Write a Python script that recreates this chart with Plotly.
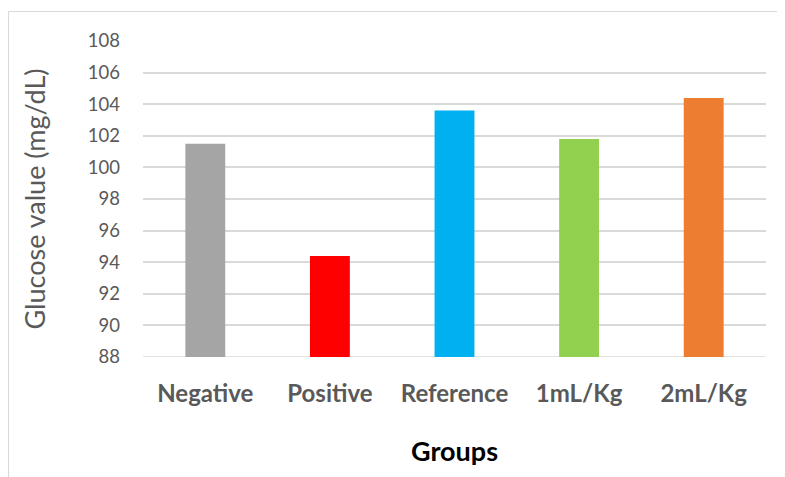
import plotly.graph_objects as go

groups = ["Negative", "Positive", "Reference", "1mL/Kg", "2mL/Kg"]
glucose = [101.5, 94.4, 103.6, 101.8, 104.4]
colors = ["#A5A5A5", "#FF0000", "#00B0F0", "#92D050", "#ED7D31"]
y_ticks = [88, 90, 92, 94, 96, 98, 100, 102, 104, 106, 108]

fig = go.Figure()
fig.add_trace(go.Bar(x=groups, y=glucose, marker=dict(color=colors, line=dict(width=0)),
                     hoverinfo="x+y"))

# page has an 8px body margin, so the figure is drawn 8px smaller
W, H = 777, 469
ml, mr, mt, mb = 135, 19, 33, 120
pw, ph = W - ml - mr, H - mt - mb

fig.update_layout(
    width=W, height=H,
    margin=dict(l=ml, r=mr, t=mt, b=mb),
    plot_bgcolor="white", paper_bgcolor="white",
    bargap=0.68,
    showlegend=False,
    font=dict(family="Lato, Open Sans, sans-serif", color="#595959"),
    xaxis=dict(
        showgrid=False, showline=False, zeroline=False,
        tickfont=dict(size=24, color="#595959", family="Lato", weight="bold"),
        ticklabelstandoff=20,
        title=dict(text="Groups", font=dict(size=27, color="#000000", family="Lato", weight="bold"), standoff=36),
    ),
    yaxis=dict(
        range=[88, 108], tickvals=y_ticks, ticktext=[str(v) for v in y_ticks],
        showgrid=True, gridcolor="#D9D9D9", gridwidth=1.5,
        zeroline=False, showline=False,
        tickfont=dict(size=18.5, color="#595959", family="Lato"),
        ticklabelstandoff=22,
        title=dict(text="Glucose value (mg/dL)", font=dict(size=27, color="#595959", family="Lato"), standoff=34),
    ),
)

# bottom baseline (gridline at 88)
fig.add_shape(type="line", xref="paper", yref="y", x0=0, x1=1, y0=88, y1=88,
              line=dict(color="#D9D9D9", width=1.5), layer="below")

# chart area border (only top and left visible in the crop)
bx0 = (0.5 - ml) / pw
by1 = 1 + (mt - 3.5) / ph
by0 = -(mb + 5) / ph
bx1 = 1 + (mr + 5) / pw
fig.add_shape(type="rect", xref="paper", yref="paper", x0=bx0, x1=bx1, y0=by0, y1=by1,
              line=dict(color="#D9D9D9", width=1), fillcolor="rgba(0,0,0,0)", layer="below")

fig.write_html("out.html")
